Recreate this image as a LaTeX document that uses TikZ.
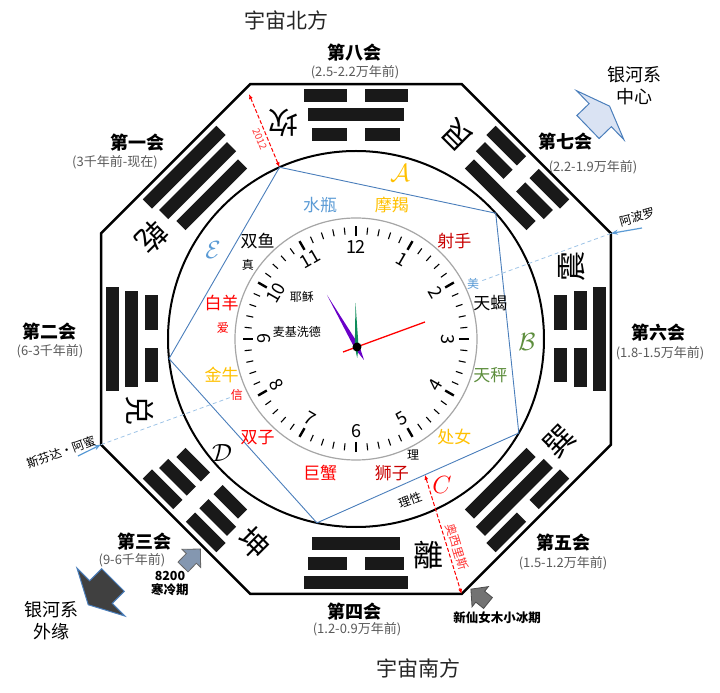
\documentclass[tikz,border=0pt]{standalone}
\usepackage{fontspec}
\setmainfont{Noto Sans CJK SC}
\newfontfamily\guafont{Noto Sans CJK TC}
\usetikzlibrary{arrows.meta,positioning,calc}

\definecolor{zhuhuang}{HTML}{FFC000}
\definecolor{caolv}{HTML}{5E8E3E}
\definecolor{tianlan}{HTML}{5B9BD5}
\definecolor{xianlan}{HTML}{4A7EBB}
\definecolor{qianlan}{HTML}{9DC3E6}
\definecolor{jianlan}{HTML}{DAE3F3}
\definecolor{huilan}{HTML}{8497B0}
\definecolor{shenhong}{HTML}{C80000}
\definecolor{huizi}{HTML}{595959}
\definecolor{zhenzi}{HTML}{6A00C8}
\definecolor{zhenlv}{HTML}{0E8C5A}

\tikzset{
  guabar/.style={fill=black!90},
  guazi/.style={font=\guafont\fontsize{30}{30}\selectfont, inner sep=0pt},
  huiming/.style={font=\bfseries\fontsize{18}{20}\selectfont, inner sep=1pt},
  nianfen/.style={font=\fontsize{13}{14}\selectfont, text=huizi, inner sep=1pt},
  xingzuo/.style={font=\fontsize{17}{19}\selectfont, inner sep=1pt},
  xiaozi/.style={font=\fontsize{12}{14}\selectfont, inner sep=1pt},
  daxie/.style={font=\fontsize{24}{26}\selectfont, inner sep=0pt},
  fangwei/.style={font=\fontsize{21}{24}\selectfont, text=black!85},
  yinhe/.style={font=\fontsize{18}{22}\selectfont, align=center},
  zhushi/.style={font=\bfseries\fontsize{12.5}{14}\selectfont, align=center},
  zhongzi/.style={font=\fontsize{18}{18}\selectfont, inner sep=0pt},
  hongxu/.style={red, line width=1, dash pattern=on 4pt off 2pt,
    {Latex[length=5pt,width=4pt]}-{Latex[length=5pt,width=4pt]}},
  qianxu/.style={qianlan, line width=0.8, dash pattern=on 4pt off 3pt},
  lanjian/.style={tianlan, line width=1.2, -{Stealth[length=7pt,width=5pt]}},
}

% 一爻：#1 距中心, #2 半长, #3 阳(1)/阴(0)
\newcommand{\yao}[3]{%
  \ifnum#3=1
    \fill[guabar] (-#2,#1-6.5) rectangle (#2,#1+6.5);
  \else
    \fill[guabar] (-#2,#1-6.5) rectangle (-9,#1+6.5);
    \fill[guabar] (9,#1-6.5) rectangle (#2,#1+6.5);
  \fi}

% 块状箭头：位置, 方向, 杆半宽, 头半宽, 杆长, 总长
\newcommand{\kuaijian}[7][]{%
  \draw[#1, shift={#2}, rotate=#3, line join=miter]
    (0,-#4) -- (#6,-#4) -- (#6,-#5) -- (#7,0) -- (#6,#5) -- (#6,#4) -- (0,#4) -- cycle;}

\begin{document}
\begin{tikzpicture}[x=1pt, y=1pt]
    \useasboundingbox (-356,-354) rectangle (364,339);

    % 八边形
    \foreach \k in {0,...,7} \coordinate (o\k) at (22.5+45*\k:276);
    \draw[line width=2.5] (o0) -- (o1) -- (o2) -- (o3) -- (o4) -- (o5) -- (o6) -- (o7) -- cycle;

    % 大圆与五边形
    \draw[line width=2] (0,0) circle (188pt);
    \foreach \k in {0,...,4} \coordinate (p\k) at (42+72*\k:188);
    \draw[xianlan, line width=0.9] (p0) -- (p1) -- (p2) -- (p3) -- (p4) -- cycle;

    % 八卦
    \foreach \a/\gua/\ya/\yb/\yc in {90/坎/0/1/0, 45/艮/1/0/0, 0/震/0/0/1, -45/巽/1/1/0,
        -90/離/1/0/1, -135/坤/0/0/0, 180/兑/0/1/1, 135/乾/1/1/1}{
        \begin{scope}[rotate=\a-90]
            \yao{204}{43.5}{\ya}
            \yao{224}{48}{\yb}
            \yao{243}{52}{\yc}
            \node[guazi, rotate=\a+90] (gua\a) at (-72,216) {\gua};
        \end{scope}
    }

    % 钟面
    \draw[gray!70, line width=1.2, fill=white] (0,0) circle (121pt);
    \foreach \m in {0,...,59}{
        \pgfmathtruncatemacro{\ke}{mod(\m,5)}
        \ifnum\ke=0
            \draw[line width=2.4] (90-6*\m:103) -- (90-6*\m:113);
        \else
            \draw[line width=1.1] (90-6*\m:105) -- (90-6*\m:112);
        \fi
    }
    \foreach \n in {1,...,12}{
        \pgfmathsetmacro{\rot}{(\n>3 && \n<9) ? 180-30*\n : -30*\n}
        \node[zhongzi, rotate=\rot] (h\n) at (90-30*\n:92) {\n};
    }
    % 指针
    \fill[zhenzi] (-29,44) -- (3.3,-6.6) -- (8,-21) -- (-1.3,-9.4) -- cycle;
    \fill[zhenlv] (-0.5,36) -- (2.6,-8) -- (1.2,-19) -- (-1.2,-8) -- cycle;
    \draw[red, line width=1.3] (-13,-13) -- (69,17);
    \fill (1,-8) circle (4.5pt);
    \node[xiaozi] (yesu) at (-54,42) {耶稣};
    \node[xiaozi] (maiji) at (-59,7) {麦基洗德};

    % 十二星座
    \foreach \ang/\name/\col in {105/水瓶/tianlan, 75/摩羯/zhuhuang, 45/射手/shenhong,
        15/天蝎/black, -15/天秤/caolv, -45/处女/zhuhuang, -75/狮子/shenhong,
        -105/巨蟹/red, -135/双子/red, -165/金牛/zhuhuang, 165/白羊/red, 135/双鱼/black}
        \node[xingzuo, text=\col] (xz\ang) at (\ang:139) {\name};

    \node[xiaozi] (zhen) at (-108,74) {真};
    \node[xiaozi, text=red] (ai) at (-133,11) {爱};
    \node[xiaozi, text=red] (xin) at (-119,-56) {信};
    \node[xiaozi] (li) at (57,-116) {理};
    \node[xiaozi, text=tianlan] (mei) at (117,55) {美};
    \node[xiaozi, rotate=20] (lixing) at (54,-161) {理性};

    % 五个字母
    \node[daxie, text=zhuhuang] (la) at (44,166) {$\mathcal{A}$};
    \node[daxie, text=caolv] (lb) at (171,-3) {$\mathcal{B}$};
    \node[daxie, text=red] (lc) at (86,-146) {$C$};
    \node[daxie] (ld) at (-134,-114) {$\mathcal{D}$};
    \node[daxie, text=tianlan] (le) at (-143,89) {$\mathcal{E}$};

    % 红色虚线
    \coordinate (d1) at (-107,245);
    \draw[hongxu] (d1) -- (p1) node[sloped, below, pos=0.58, text=red!80,
        font=\fontsize{10}{10}\selectfont] (n2012) {2012};
    \coordinate (c1) at ($(p3)!0.535!(p4)$);
    \draw[hongxu] (c1) -- (o6) node[sloped, above, pos=0.63, text=red!80,
        font=\fontsize{12}{12}\selectfont] (osiris) {奥西里斯};

    % 浅蓝虚线与箭头
    \draw[qianxu] (o0) -- (mei);
    \draw[qianxu] (o4) -- (xin);
    \coordinate (abl0) at (286,111);
    \draw[lanjian] (abl0) -- (o0);
    \node[xiaozi, rotate=15] (abl) at (281,122) {阿波罗};
    \coordinate (sfd0) at (-278,-117);
    \draw[lanjian] (sfd0) -- (o4);
    \node[xiaozi, rotate=20] (sfd) at (-295,-113) {斯芬达•阿蜜};

    % 八会
    \node[huiming] (h8) at (-1,286) {第八会};
    \node[nianfen] (r8) at (-1,267) {(2.5-2.2万年前)};
    \node[huiming] (h7) at (209,197) {第七会};
    \node[nianfen] (r7) at (237,172) {(2.2-1.9万年前)};
    \node[huiming] (h6) at (302,6) {第六会};
    \node[nianfen] (r6) at (304,-14) {(1.8-1.5万年前)};
    \node[huiming] (h5) at (207,-204) {第五会};
    \node[nianfen] (r5) at (207,-224) {(1.5-1.2万年前)};
    \node[huiming] (h4) at (-1,-273) {第四会};
    \node[nianfen] (r4) at (1,-290) {(1.2-0.9万年前)};
    \node[huiming] (h3) at (-211,-203) {第三会};
    \node[nianfen] (r3) at (-224,-221) {(9-6千年前)};
    \node[huiming] (h2) at (-306,7) {第二会};
    \node[nianfen] (r2) at (-306,-12) {(6-3千年前)};
    \node[huiming] (h1) at (-218,196) {第一会};
    \node[nianfen] (r1) at (-241,177) {(3千年前-现在)};

    % 方位
    \node[fangwei] (bei) at (-69,319) {宇宙北方};
    \node[fangwei] (nan) at (62,-329) {宇宙南方};

    % 银河系
    \kuaijian[draw=xianlan, fill=jianlan, line width=1]{(232,212)}{44}{16}{34}{17}{30}
    \node[yinhe] (zhongxin) at (278,253) {银河系\\中心};
    \kuaijian[draw=xianlan, fill=black!75, line width=1]{(-243,-241)}{-135}{16}{34}{17}{35}
    \node[yinhe] (waiyuan) at (-304,-282) {银河系\\外缘};

    % 冰期
    \kuaijian[draw=black!60, fill=huilan, line width=0.8]{(-173,-228)}{46}{7}{13}{12}{25}
    \node[zhushi] (hanleng) at (-186,-244) {8200\\寒冷期};
    \kuaijian[draw=black!70, fill=black!55, line width=0.8]{(132,-264)}{141}{7}{13}{10}{22}
    \node[zhushi] (xianv) at (141,-279) {新仙女木小冰期};
\end{tikzpicture}
\end{document}
